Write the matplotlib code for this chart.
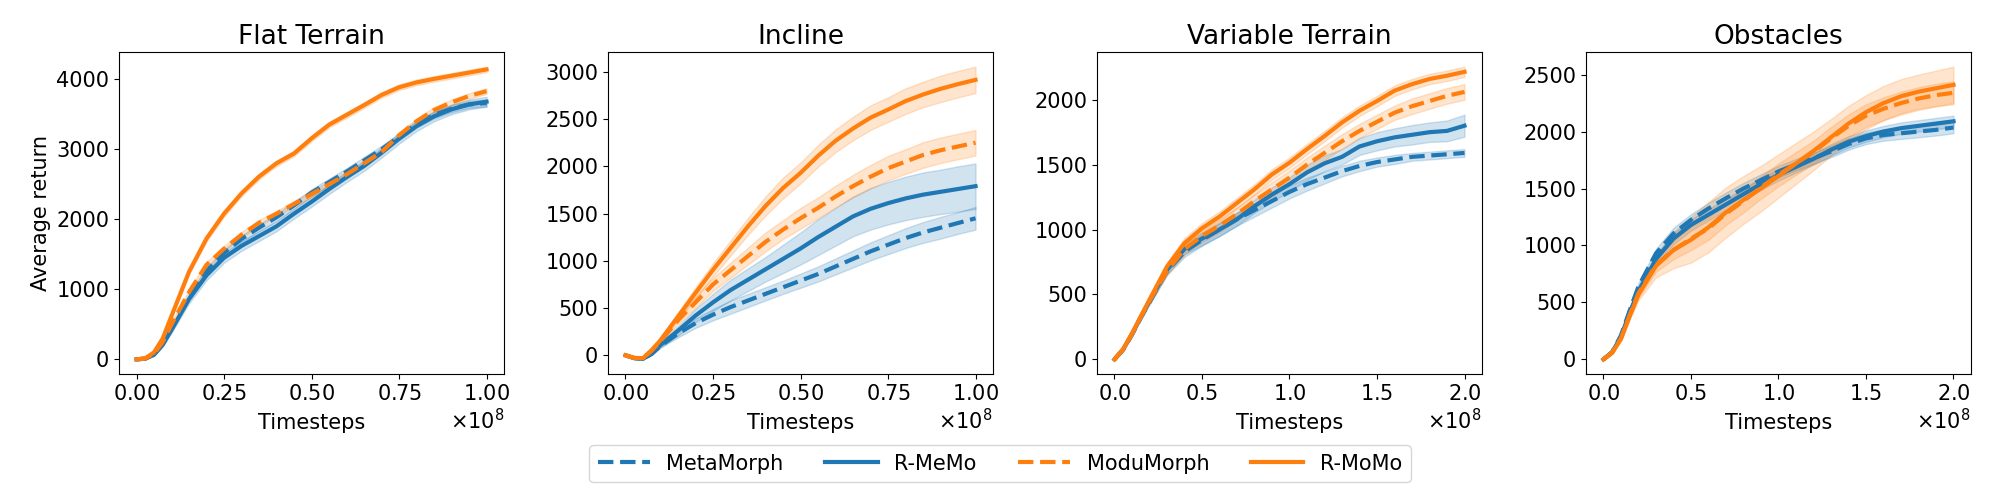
import numpy as np
import matplotlib
matplotlib.use('Agg')
import matplotlib.pyplot as plt

# x grids (in units of 1e8 timesteps)
x_short = [0.0, 0.025, 0.05, 0.075, 0.1, 0.15, 0.2, 0.25, 0.3, 0.35, 0.4, 0.45, 0.5,
           0.55, 0.6, 0.65, 0.7, 0.75, 0.8, 0.85, 0.9, 0.95, 1.0]
x_long = [0.0, 0.05, 0.1, 0.15, 0.2, 0.3, 0.4, 0.5, 0.6, 0.7, 0.8, 0.9, 1.0,
          1.1, 1.2, 1.3, 1.4, 1.5, 1.6, 1.7, 1.8, 1.9, 2.0]

titles = ['Flat Terrain', 'Incline', 'Variable Terrain', 'Obstacles']
methods = ['MetaMorph', 'R-MeMo', 'ModuMorph', 'R-MoMo']

# Flat Terrain
flat_metamorph = [0, 10, 70, 220, 440, 900, 1260, 1520, 1720, 1880, 2030, 2200, 2380,
                  2530, 2680, 2840, 3000, 3180, 3360, 3490, 3580, 3640, 3660]
flat_rmemo = [0, 10, 65, 210, 420, 860, 1200, 1450, 1620, 1760, 1900, 2080, 2250,
              2430, 2600, 2760, 2950, 3150, 3330, 3470, 3570, 3640, 3680]
flat_modumorph = [0, 12, 80, 250, 500, 960, 1350, 1580, 1780, 1950, 2080, 2220, 2360,
                  2500, 2640, 2800, 2960, 3200, 3400, 3560, 3670, 3760, 3830]
flat_rmomo = [0, 15, 100, 300, 620, 1250, 1725, 2080, 2370, 2610, 2800, 2940, 3155,
              3350, 3490, 3630, 3775, 3885, 3955, 4005, 4050, 4095, 4140]
flat_metamorph_sd = [0, 5, 10, 20, 30, 40, 50, 50, 50, 50, 50, 50, 50,
                     50, 50, 50, 50, 50, 50, 50, 50, 50, 50]
flat_rmemo_sd = [0, 5, 10, 25, 40, 60, 70, 70, 70, 70, 70, 70, 70,
                 70, 70, 70, 70, 70, 70, 70, 70, 70, 70]
flat_modumorph_sd = [0, 5, 10, 20, 30, 40, 40, 40, 40, 40, 40, 40, 40,
                     40, 40, 40, 40, 40, 40, 40, 40, 40, 40]
flat_rmomo_sd = [0, 5, 10, 20, 30, 40, 40, 40, 40, 40, 40, 40, 40,
                 40, 40, 40, 40, 40, 40, 40, 40, 40, 40]

# Incline
incl_metamorph = [0, -30, -38, 15, 100, 230, 340, 430, 510, 580, 650, 720, 790,
                  860, 940, 1020, 1100, 1170, 1240, 1300, 1350, 1400, 1450]
incl_rmemo = [0, -30, -38, 20, 110, 260, 420, 560, 690, 800, 910, 1020, 1130,
              1250, 1360, 1470, 1550, 1610, 1660, 1700, 1730, 1760, 1790]
incl_modumorph = [0, -28, -30, 50, 150, 370, 560, 750, 900, 1050, 1200, 1330, 1450,
                  1560, 1680, 1790, 1890, 1980, 2050, 2120, 2170, 2210, 2250]
incl_rmomo = [0, -28, -30, 55, 160, 410, 660, 905, 1135, 1365, 1580, 1770, 1930,
              2110, 2270, 2400, 2515, 2600, 2690, 2760, 2820, 2870, 2915]
incl_metamorph_sd = [0, 3, 5, 10, 20, 40, 50, 60, 70, 70, 70, 70, 75,
                     80, 85, 90, 95, 100, 105, 110, 115, 115, 120]
incl_rmemo_sd = [0, 3, 5, 12, 25, 50, 70, 90, 110, 120, 130, 150, 170,
                 190, 200, 210, 220, 225, 230, 235, 235, 240, 240]
incl_modumorph_sd = [0, 3, 5, 10, 20, 40, 60, 70, 80, 90, 100, 100, 110,
                     110, 115, 120, 125, 130, 130, 135, 135, 135, 135]
incl_rmomo_sd = [0, 3, 5, 10, 20, 40, 60, 70, 80, 90, 100, 110, 110,
                 115, 120, 125, 130, 130, 135, 135, 140, 140, 140]

# Variable Terrain
var_metamorph = [0, 75, 190, 320, 440, 680, 830, 920, 1000, 1080, 1150, 1220, 1290,
                 1350, 1400, 1450, 1490, 1520, 1540, 1560, 1570, 1580, 1590]
var_rmemo = [0, 78, 195, 325, 450, 690, 850, 930, 1000, 1080, 1180, 1270, 1350,
             1440, 1510, 1560, 1640, 1680, 1710, 1730, 1750, 1760, 1800]
var_modumorph = [0, 78, 195, 325, 450, 680, 850, 950, 1030, 1120, 1220, 1310, 1400,
                 1500, 1590, 1680, 1760, 1830, 1900, 1950, 1990, 2030, 2060]
var_rmomo = [0, 80, 200, 330, 460, 715, 895, 1010, 1100, 1205, 1310, 1425, 1515,
             1620, 1720, 1825, 1915, 1990, 2070, 2120, 2160, 2185, 2215]
var_metamorph_sd = [0, 5, 10, 15, 20, 30, 40, 45, 50, 50, 50, 50, 50,
                    50, 45, 40, 40, 35, 35, 30, 30, 30, 30]
var_rmemo_sd = [0, 5, 10, 15, 20, 30, 40, 50, 50, 50, 50, 55, 55,
                60, 60, 60, 65, 70, 70, 75, 75, 80, 85]
var_modumorph_sd = [0, 5, 10, 15, 20, 30, 40, 45, 50, 50, 50, 55, 55,
                    55, 55, 55, 55, 55, 55, 60, 60, 60, 60]
var_rmomo_sd = [0, 5, 10, 15, 20, 30, 40, 40, 40, 40, 40, 40, 40,
                40, 40, 40, 40, 40, 40, 40, 40, 40, 40]

# Obstacles
obs_metamorph = [0, 65, 210, 430, 640, 930, 1105, 1225, 1325, 1415, 1500, 1575, 1650,
                 1710, 1765, 1825, 1890, 1940, 1970, 1985, 2000, 2015, 2035]
obs_rmemo = [0, 62, 200, 410, 600, 880, 1060, 1180, 1270, 1360, 1450, 1540, 1620,
             1690, 1760, 1840, 1910, 1960, 2000, 2030, 2050, 2070, 2090]
obs_modumorph = [0, 60, 185, 390, 580, 830, 960, 1060, 1150, 1280, 1390, 1510, 1620,
                 1720, 1820, 1940, 2050, 2140, 2200, 2250, 2290, 2320, 2340]
obs_rmomo = [0, 58, 180, 380, 570, 820, 960, 1050, 1160, 1290, 1400, 1500, 1610,
             1720, 1830, 1950, 2070, 2170, 2250, 2310, 2350, 2380, 2410]
obs_metamorph_sd = [0, 5, 10, 20, 30, 40, 50, 50, 50, 50, 50, 50, 50,
                    50, 50, 50, 50, 50, 50, 50, 50, 50, 50]
obs_rmemo_sd = [0, 5, 10, 20, 30, 40, 50, 50, 50, 50, 50, 50, 50,
                50, 50, 50, 50, 50, 50, 50, 50, 50, 50]
obs_modumorph_sd = [0, 5, 10, 25, 40, 60, 80, 100, 100, 100, 100, 100, 100,
                    100, 100, 100, 100, 100, 100, 100, 100, 100, 100]
obs_rmomo_sd = [0, 5, 15, 30, 50, 100, 160, 200, 220, 220, 210, 200, 190,
                180, 170, 160, 155, 150, 150, 150, 150, 155, 160]

panels = [
    (x_short, [flat_metamorph, flat_rmemo, flat_modumorph, flat_rmomo],
     [flat_metamorph_sd, flat_rmemo_sd, flat_modumorph_sd, flat_rmomo_sd]),
    (x_short, [incl_metamorph, incl_rmemo, incl_modumorph, incl_rmomo],
     [incl_metamorph_sd, incl_rmemo_sd, incl_modumorph_sd, incl_rmomo_sd]),
    (x_long, [var_metamorph, var_rmemo, var_modumorph, var_rmomo],
     [var_metamorph_sd, var_rmemo_sd, var_modumorph_sd, var_rmomo_sd]),
    (x_long, [obs_metamorph, obs_rmemo, obs_modumorph, obs_rmomo],
     [obs_metamorph_sd, obs_rmemo_sd, obs_modumorph_sd, obs_rmomo_sd]),
]
xticks = [[0, 0.25, 0.5, 0.75, 1.0], [0, 0.25, 0.5, 0.75, 1.0],
          [0, 0.5, 1.0, 1.5, 2.0], [0, 0.5, 1.0, 1.5, 2.0]]
yticks = [[0, 1000, 2000, 3000, 4000], [0, 500, 1000, 1500, 2000, 2500, 3000],
          [0, 500, 1000, 1500, 2000], [0, 500, 1000, 1500, 2000, 2500]]

colors = ['#1f77b4', '#1f77b4', '#ff7f0e', '#ff7f0e']
styles = ['--', '-', '--', '-']

plt.rcParams['font.size'] = 15
fig, axes = plt.subplots(1, 4, figsize=(20, 5), dpi=100)
fig.subplots_adjust(left=0.0595, right=0.9855, top=0.896, bottom=0.252, wspace=0.27)

handles = []
for i, ax in enumerate(axes):
    xs, ys, sds = panels[i]
    x = np.array(xs) * 1e8
    for j in range(4):
        y = np.array(ys[j])
        sd = np.array(sds[j])
        ax.fill_between(x, y - sd, y + sd, color=colors[j], alpha=0.2, lw=1)
        l, = ax.plot(x, y, color=colors[j], ls=styles[j], lw=3, label=methods[j])
        if i == 0:
            handles.append(l)
    ax.set_title(titles[i], fontsize=19)
    ax.set_xlabel('Timesteps', fontsize=15, labelpad=7)
    ax.set_xticks(np.array(xticks[i]) * 1e8)
    ax.set_yticks(yticks[i])
    ax.ticklabel_format(axis='x', style='sci', scilimits=(0, 0), useMathText=True)
    ax.tick_params(labelsize=15)
    ax.xaxis.get_offset_text().set_fontsize(15)
axes[0].set_ylabel('Average return', fontsize=15)

fig.legend(handles=handles, loc='lower center', bbox_to_anchor=(0.5, 0.015),
           ncol=4, fontsize=15, handlelength=2.5, columnspacing=2.0)

plt.savefig('out.png')
